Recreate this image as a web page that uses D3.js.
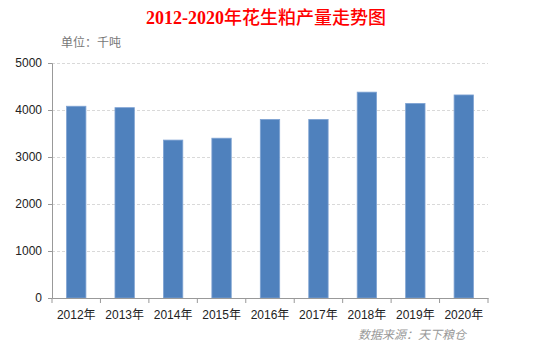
<!DOCTYPE html>
<html lang="zh">
<head>
<meta charset="utf-8">
<script src="https://d3js.org/d3.v7.min.js"></script>
<style>
body { margin: 0; background: #fff; }
.axis text { font: 12px "Liberation Sans", "Noto Sans CJK SC", sans-serif; fill: #222; }
.grid line { stroke: #d9d9d9; stroke-dasharray: 3,2; }
.grid path { display: none; }
</style>
</head>
<body>
<svg width="534" height="347"></svg>
<script>
// data
var years = ["2012年", "2013年", "2014年", "2015年", "2016年", "2017年", "2018年", "2019年", "2020年"];
var output = [4080, 4050, 3360, 3400, 3800, 3800, 4380, 4140, 4320];
var yTicks = [0, 1000, 2000, 3000, 4000, 5000];

var svg = d3.select("svg"),
    margin = {top: 63, right: 46, bottom: 49, left: 52},
    width = +svg.attr("width") - margin.left - margin.right,
    height = +svg.attr("height") - margin.top - margin.bottom;

var x = d3.scaleBand().domain(years).range([0, width]).paddingInner(0.6).paddingOuter(0.3);
var y = d3.scaleLinear().domain([0, 5000]).range([height, 0]);

var g = svg.append("g").attr("transform", "translate(" + margin.left + "," + margin.top + ")");

// gridlines
g.append("g").attr("class", "grid")
  .call(d3.axisLeft(y).tickValues(yTicks.slice(1)).tickSize(-width).tickFormat(""));

// bars
g.selectAll(".bar").data(output).enter().append("rect")
  .attr("x", function(d, i) { return x(years[i]); })
  .attr("y", function(d) { return y(d); })
  .attr("width", x.bandwidth())
  .attr("height", function(d) { return height - y(d); })
  .attr("fill", "#4f81bd")
  .attr("stroke", "#7fa3d3")
  .attr("stroke-width", 0.8);

// y axis
var ya = g.append("g").attr("class", "axis")
  .call(d3.axisLeft(y).tickValues(yTicks).tickSize(4).tickPadding(6).tickFormat(d3.format("d")));
ya.select(".domain").attr("stroke", "#999");
ya.selectAll(".tick line").attr("stroke", "#999");

// x axis, ticks between bands
var xa = g.append("g").attr("class", "axis")
  .attr("transform", "translate(0," + height + ")")
  .call(d3.axisBottom(x).tickSize(0).tickPadding(12));
xa.select(".domain").attr("stroke", "#999");
xa.selectAll(".sep").data(d3.range(years.length + 1)).enter().append("line")
  .attr("x1", function(i) { return i * width / years.length; })
  .attr("x2", function(i) { return i * width / years.length; })
  .attr("y1", 0).attr("y2", 5)
  .attr("stroke", "#999");

// title
var title = svg.append("text")
  .attr("x", 266).attr("y", 24)
  .attr("text-anchor", "middle")
  .attr("fill", "#ff0000");
title.append("tspan")
  .style("font", "bold 18px 'Liberation Serif', serif")
  .text("2012-2020");
title.append("tspan")
  .style("font", "500 18px 'Noto Sans CJK SC', sans-serif")
  .text("年花生粕产量走势图");

// unit
svg.append("text")
  .attr("x", 61).attr("y", 47)
  .style("font", "12px 'Noto Sans CJK SC', sans-serif")
  .attr("fill", "#777")
  .text("单位：千吨");

// source
svg.append("text")
  .attr("x", 466).attr("y", 339)
  .attr("text-anchor", "end")
  .style("font", "italic 12px 'Noto Sans CJK SC', sans-serif")
  .attr("fill", "#999")
  .text("数据来源：天下粮仓");
</script>
</body>
</html>
